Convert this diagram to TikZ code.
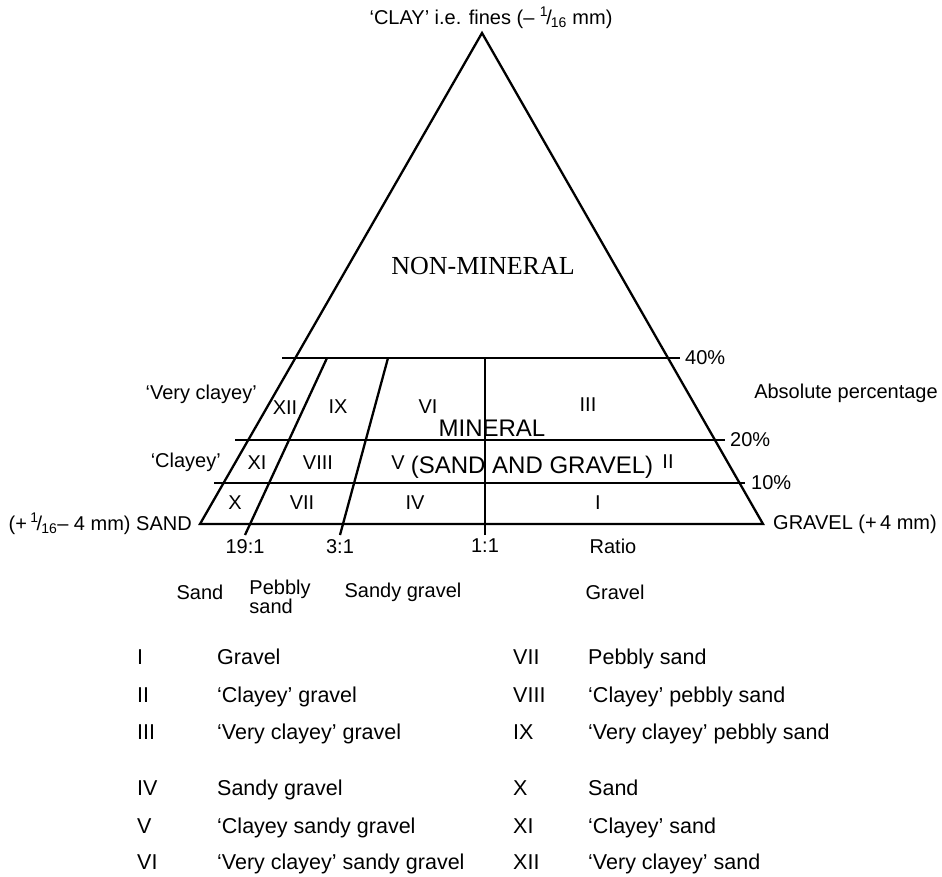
\documentclass[tikz,border=0pt]{standalone}
\usepackage{fontspec}
\setmainfont{Liberation Sans}
\newfontfamily\nmfont{Liberation Serif}
\usetikzlibrary{positioning}
\newcommand{\sixteenth}{\textsuperscript{1}\kern-0.1em/\kern-0.05em\textsubscript{16}}

\begin{document}
\begin{tikzpicture}[x=1pt, y=-1pt,
	every node/.style={font=\fontsize{20}{22}\selectfont, inner sep=1pt},
	rule/.style={line width=2.3pt},
	big/.style={font=\fontsize{24}{28}\selectfont},
	key/.style={font=\fontsize{21.5}{24}\selectfont, anchor=west, text height=15pt, text depth=4pt}]
	\useasboundingbox (0,0) rectangle (942,877);

	% triangle and grid
	\coordinate (T) at (482,33);
	\coordinate (S) at (200,524);
	\coordinate (G) at (763,524);
	\coordinate (L40) at (282,358);
	\coordinate (R40) at (680,358);
	\coordinate (L20) at (235,440);
	\coordinate (R20) at (725,440);
	\coordinate (L10) at (214,483);
	\coordinate (R10) at (745,483);
	\coordinate (B19) at (245,535);
	\coordinate (T19) at (327,358);
	\coordinate (B3) at (340,535);
	\coordinate (T3) at (388,358);
	\coordinate (B1) at (485,535);
	\coordinate (T1) at (485,358);
	\draw [rule, line join=miter] (S) -- (T) -- (G) -- cycle;
	\draw [rule] (L40) -- (R40);
	\draw [rule] (L20) -- (R20);
	\draw [rule] (L10) -- (R10);
	\draw [rule] (B19) -- (T19);
	\draw [rule] (B3) -- (T3);
	\draw [rule] (B1) -- (T1);

	% corner and scale labels
	\node (clay) at (491,18) {`CLAY' i.e. fines (– \sixteenth\ mm)};
	\node [right=9pt of G] (gravel) {GRAVEL (+\,4 mm)};
	\node [left=7pt of S] (sand) {(+\,\sixteenth– 4 mm) SAND};
	\node [right=4pt of R40] (P40) {40\%};
	\node [right=4pt of R20] (P20) {20\%};
	\node [right=5pt of R10] (P10) {10\%};
	\node (abs) at (846,393) {Absolute percentage};
	\node [anchor=east] (vclayey) at (258,394) {`Very clayey'};
	\node [anchor=east] (clayey) at (222,462) {`Clayey'};
	\node [below=3pt of B19] (R19) {19:1};
	\node [below=3pt of B3] (R3) {3:1};
	\node [below=3pt of B1] (R1) {1:1};
	\node (ratio) at (613,546) {Ratio};
	\node (sandn) at (200,592) {Sand};
	\node [align=left, font=\fontsize{20}{19}\selectfont] (pebbly) at (280,597) {Pebbly\\sand};
	\node (sandyg) at (403,592) {Sandy gravel};
	\node (graveln) at (615,592) {Gravel};

	% zones
	\node [font=\nmfont\fontsize{26}{30}\selectfont] (nonmin) at (483,266) {NON-MINERAL};
	\node [big] (mineral) at (492,428) {MINERAL};
	\node [big] (sg) at (532,467) {(SAND AND GRAVEL)};
	\node (z12) at (285,408) {XII};
	\node (z9) at (338,407) {IX};
	\node (z6) at (428,407) {VI};
	\node (z3) at (588,405) {III};
	\node (z11) at (257,463) {XI};
	\node (z8) at (318,463) {VIII};
	\node (z5) at (398,463) {V};
	\node (z2) at (668,462) {II};
	\node (z10) at (235,503) {X};
	\node (z7) at (302,503) {VII};
	\node (z4) at (415,503) {IV};
	\node (z1) at (598,503) {I};

	% key
	\node [key] (k1) at (136,659) {I};
	\node [key] (k2) at (136,697) {II};
	\node [key] (k3) at (136,734) {III};
	\node [key] (k4) at (136,790) {IV};
	\node [key] (k5) at (136,828) {V};
	\node [key] (k6) at (136,864) {VI};
	\node [key] (n1) at (216,659) {Gravel};
	\node [key] (n2) at (216,697) {`Clayey' gravel};
	\node [key] (n3) at (216,734) {`Very clayey' gravel};
	\node [key] (n4) at (216,790) {Sandy gravel};
	\node [key] (n5) at (216,828) {`Clayey sandy gravel};
	\node [key] (n6) at (216,864) {`Very clayey' sandy gravel};
	\node [key] (k7) at (512,659) {VII};
	\node [key] (k8) at (512,697) {VIII};
	\node [key] (k9) at (512,734) {IX};
	\node [key] (k10) at (512,790) {X};
	\node [key] (k11) at (512,828) {XI};
	\node [key] (k12) at (512,864) {XII};
	\node [key] (n7) at (587,659) {Pebbly sand};
	\node [key] (n8) at (587,697) {`Clayey' pebbly sand};
	\node [key] (n9) at (587,734) {`Very clayey' pebbly sand};
	\node [key] (n10) at (587,790) {Sand};
	\node [key] (n11) at (587,828) {`Clayey' sand};
	\node [key] (n12) at (587,864) {`Very clayey' sand};
\end{tikzpicture}
\end{document}
